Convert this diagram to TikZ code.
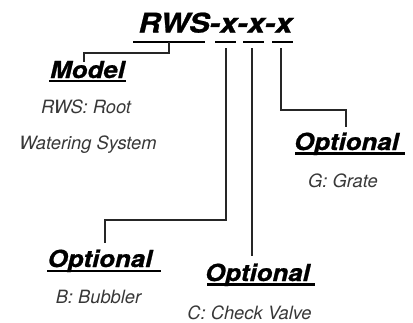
\documentclass[tikz,border=0pt]{standalone}
\usepackage{fontspec}
\setmainfont{TeX Gyre Heros}
\newfontfamily\heavyfont{texgyreheros-bolditalic.otf}[FakeBold=0.8]
\begin{document}
\begin{tikzpicture}[x=1pt,y=-1pt]
\tikzset{
  title/.style={font=\fontsize{27}{30}\heavyfont, inner sep=0pt, anchor=base},
  head/.style={font=\fontsize{23.5}{26}\heavyfont, inner sep=0pt, anchor=base},
  desc/.style={font=\fontsize{18.3}{20}\selectfont\itshape, text=black!78, inner sep=0pt, anchor=base},
  uline/.style={line width=2.4pt},
  conn/.style={line width=1.1pt, draw=black!85}
}
\useasboundingbox[fill=white] (0,0) rectangle (413,322);

% title
\node[title] (t) at (215.5,32.5) {\scalebox{1.15}[1]{RWS-x-x-x}};
\draw[uline] (133,41.7) -- (205,41.7);
\draw[uline] (215,41.7) -- (236,41.7);
\draw[uline] (243,41.7) -- (264,41.7);
\draw[uline] (272,41.7) -- (293,41.7);
\coordinate (uR) at (169,41.7);
\coordinate (u1) at (226,48);
\coordinate (u2) at (252,48);
\coordinate (u3) at (281,48);

% Model
\node[head] (model) at (87.5,78) {\scalebox{1.1}[1]{Model}};
\draw[uline] (49,81) -- (126,81);
\coordinate (mT) at (84,62);
\node[desc] (m1) at (86,113.5) {RWS: Root};
\node[desc] (m2) at (88,149) {Watering System};

% Optional G
\node[head] (og) at (346.5,150) {\scalebox{1.1}[1]{Optional}};
\draw[uline] (295,153.5) -- (405,153.5);
\coordinate (gT) at (346,127);
\node[desc] (g) at (343,187) {G: Grate};

% Optional B
\node[head] (ob) at (100,267) {\scalebox{1.1}[1]{Optional}};
\draw[uline] (47,271) -- (161,271);
\coordinate (bT) at (105,243);
\node[desc] (b) at (98.5,303) {B: Bubbler};

% Optional C
\node[head] (oc) at (257.5,281) {\scalebox{1.1}[1]{Optional}};
\draw[uline] (207,284.5) -- (315,284.5);
\coordinate (cT) at (252,256);
\node[desc] (c) at (249.5,319) {C: Check Valve};

% connectors
\draw[conn] (uR) -- ++(0,11.3) -| (mT);
\draw[conn] (u1) -- ++(0,172) -| (bT);
\draw[conn] (u2) -- (cT);
\draw[conn] (u3) -- ++(0,62) -| (gT);
\end{tikzpicture}
\end{document}
